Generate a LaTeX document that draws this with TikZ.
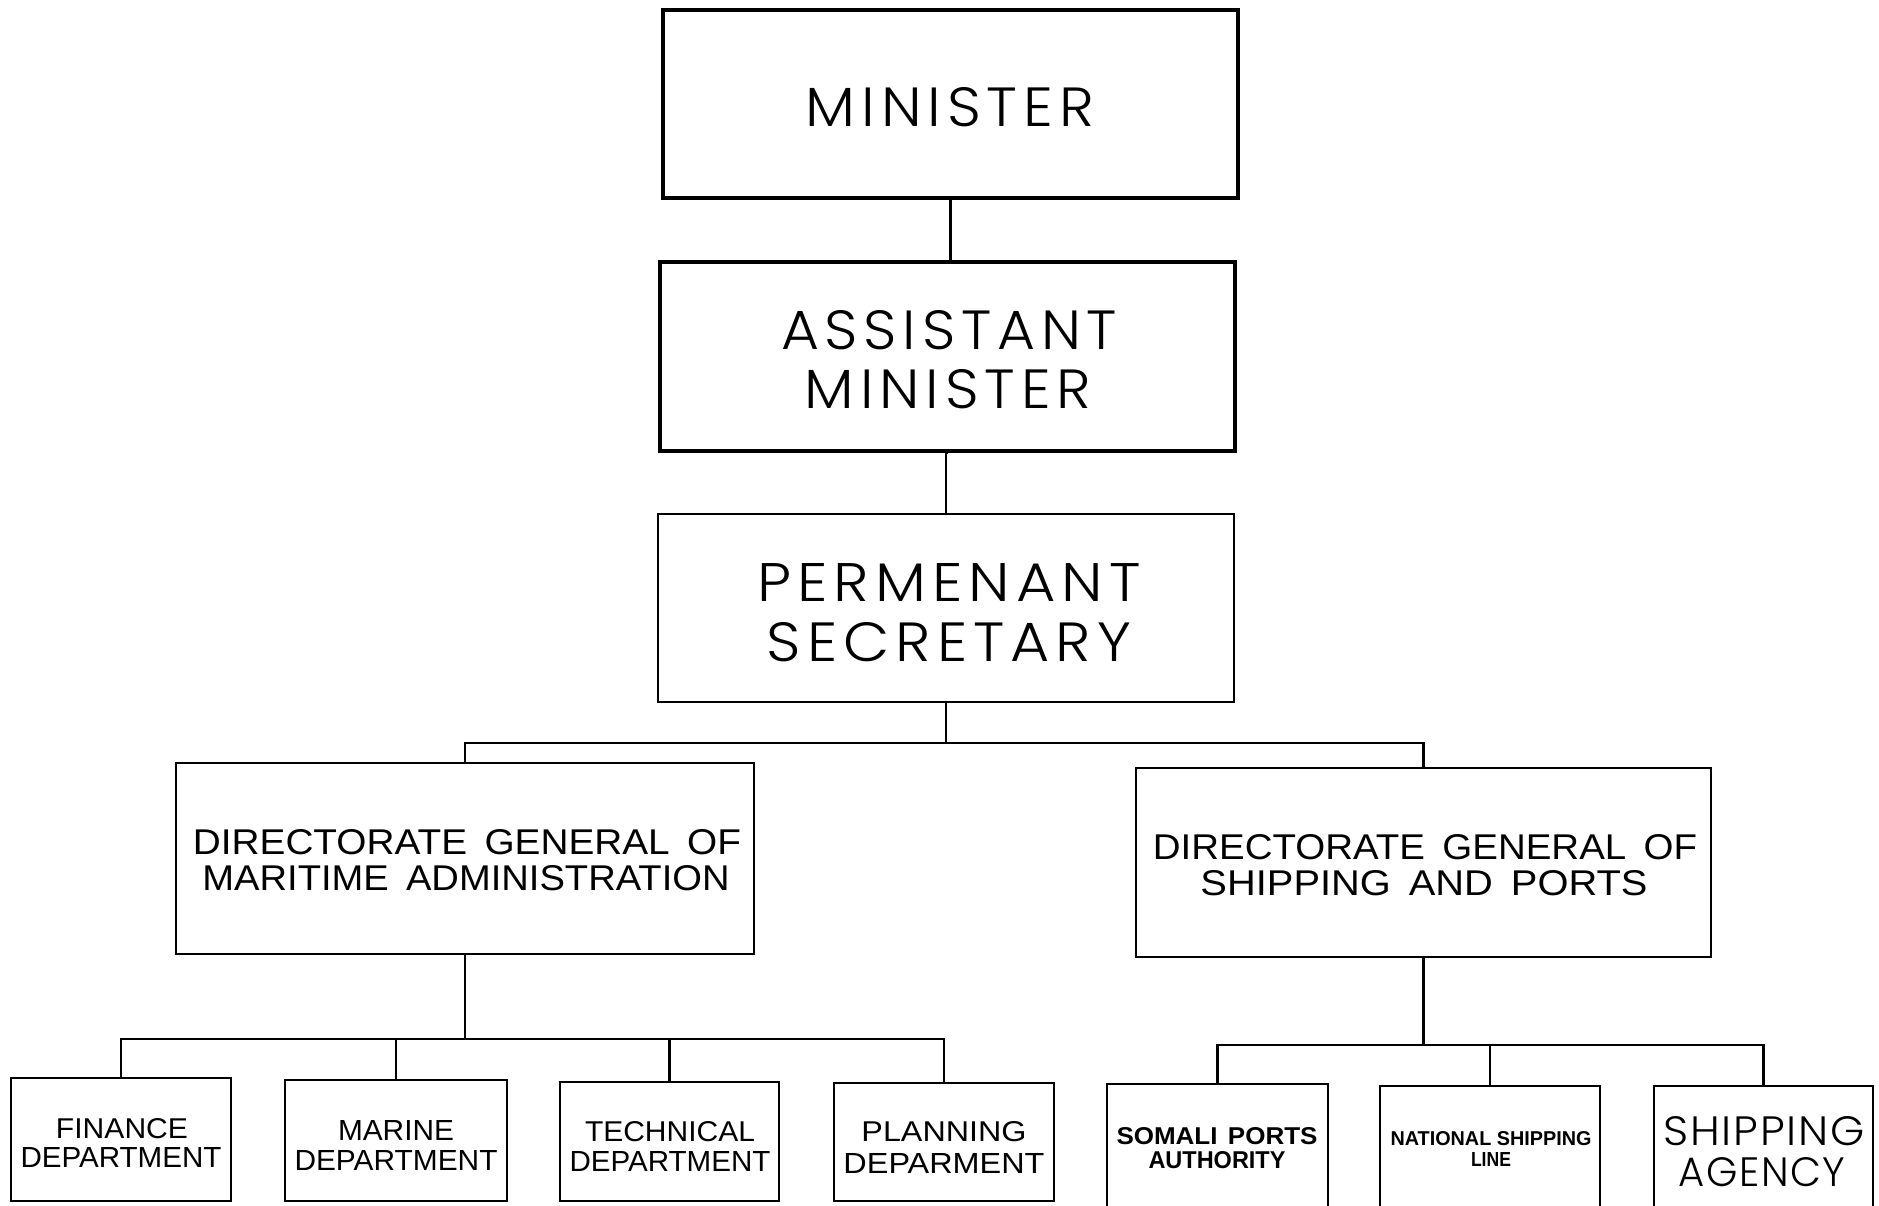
\documentclass[tikz,border=0pt]{standalone}
\usepackage{fontspec}
\setmainfont{Liberation Sans}
\newfontfamily\geo[LetterSpace=10,UprightFont={* Light}]{Poppins}
\newfontfamily\geob[LetterSpace=4,UprightFont={* Light}]{Poppins}
\newcommand\ftxt[3]{\resizebox{#1pt}{#2pt}{#3}}
\begin{document}
\begin{tikzpicture}[x=1pt,y=-1pt,
  boxthick/.style={draw, line width=4.5pt, inner sep=0pt},
  boxmid/.style={draw, line width=2.6pt, inner sep=0pt},
  boxthin/.style={draw, line width=2.2pt, inner sep=0pt},
  txt/.style={inner sep=0pt, anchor=center},
  conn/.style={line width=2.2pt}]
\useasboundingbox (0,0) rectangle (1879,1206);
\fill[white] (0,0) rectangle (1879,1206);

% top chain
\node[boxthick, minimum width=575pt, minimum height=188pt] (min) at (950.5,104) {};
\node[boxthick, minimum width=575pt, minimum height=189pt] (asst) at (947.5,356.5) {};
\node[boxmid, minimum width=576pt, minimum height=188pt] (perm) at (946,608) {};

\node[txt] (tmin) at (950,107) {\ftxt{288}{39}{\geo MINISTER}};
\node[txt] (tasst1) at (949,330) {\ftxt{336}{39}{\geo ASSISTANT}};
\node[txt] (tasst2) at (948,389) {\ftxt{286}{39}{\geo MINISTER}};
\node[txt] (tperm1) at (949,582) {\ftxt{383}{38}{\geo PERMENANT}};
\node[txt] (tperm2) at (949,642) {\ftxt{364}{39}{\geo SECRETARY}};

% directorates
\node[boxmid, minimum width=578pt, minimum height=191pt] (dgl) at (465,858.5) {};
\node[boxmid, minimum width=575pt, minimum height=189pt] (dgr) at (1423.5,862.5) {};

\node[txt] (tdgl1) at (467,842) {\ftxt{548}{25}{DIRECTORATE\hspace{0.45em}GENERAL\hspace{0.45em}OF}};
\node[txt] (tdgl2) at (466,878) {\ftxt{527}{25}{MARITIME\hspace{0.45em}ADMINISTRATION}};
\node[txt] (tdgr1) at (1425,847) {\ftxt{544}{25}{DIRECTORATE\hspace{0.45em}GENERAL\hspace{0.45em}OF}};
\node[txt] (tdgr2) at (1424,883) {\ftxt{447}{25}{SHIPPING\hspace{0.45em}AND\hspace{0.45em}PORTS}};

% bottom boxes (left, closed)
\node[boxthin, minimum width=220pt, minimum height=123pt] (fin) at (121,1139.5) {};
\node[boxthin, minimum width=222pt, minimum height=121pt] (mar) at (396,1140.5) {};
\node[boxthin, minimum width=219pt, minimum height=119pt] (tec) at (669.5,1141.5) {};
\node[boxthin, minimum width=220pt, minimum height=118pt] (pla) at (944,1142) {};
% bottom boxes (right, run off the page)
\node[boxthin, minimum width=221pt, minimum height=160pt] (som) at (1217.5,1164) {};
\node[boxthin, minimum width=220pt, minimum height=158pt] (nat) at (1490,1165) {};
\node[boxthin, minimum width=219pt, minimum height=158pt] (shp) at (1763.5,1165) {};

\node[txt] (tfin1) at (122,1129) {\ftxt{132}{20}{FINANCE}};
\node[txt] (tfin2) at (121,1157) {\ftxt{201}{20}{DEPARTMENT}};
\node[txt] (tmar1) at (396,1130) {\ftxt{116}{20}{MARINE}};
\node[txt] (tmar2) at (396,1160) {\ftxt{203}{20}{DEPARTMENT}};
\node[txt] (ttec1) at (670,1132) {\ftxt{170}{20}{TECHNICAL}};
\node[txt] (ttec2) at (670,1161) {\ftxt{201}{20}{DEPARTMENT}};
\node[txt] (tpla1) at (944,1132) {\ftxt{165}{20}{PLANNING}};
\node[txt] (tpla2) at (944,1163) {\ftxt{201}{20}{DEPARMENT}};
\node[txt] (tsom1) at (1217,1136) {\ftxt{201}{17}{\bfseries SOMALI\hspace{0.4em}PORTS}};
\node[txt] (tsom2) at (1217,1160) {\ftxt{137}{17}{\bfseries AUTHORITY}};
\node[txt] (tnat1) at (1491,1139) {\ftxt{201}{14}{\bfseries NATIONAL SHIPPING}};
\node[txt] (tnat2) at (1491,1159) {\ftxt{40}{14}{\bfseries LINE}};
\node[txt] (tshp1) at (1764,1131) {\ftxt{201}{29}{\geob SHIPPING}};
\node[txt] (tshp2) at (1762,1172) {\ftxt{167}{29}{\geob AGENCY}};

% bus coordinates
\coordinate (busT) at (0,743);
\coordinate (busL) at (0,1039);
\coordinate (busR) at (0,1045);

% connectors
\draw[conn] (min.south) -- (min.south |- asst.north);
\draw[conn] (asst.south) -- (perm.south |- asst.south) -- (perm.north);
\draw[conn] (perm.south) -- (perm.south |- busT);
\draw[conn] (dgl.north) -- (dgl.north |- busT) -- (dgr.north |- busT) -- (dgr.north);

\draw[conn] (dgl.south) -- (dgl.south |- busL);
\draw[conn] (fin.north) -- (fin.north |- busL) -- (pla.north |- busL) -- (pla.north);
\draw[conn] (mar.north) -- (mar.north |- busL);
\draw[conn] (tec.north) -- (tec.north |- busL);

\draw[conn] (dgr.south) -- (dgr.south |- busR);
\draw[conn] (som.north) -- (som.north |- busR) -- (shp.north |- busR) -- (shp.north);
\draw[conn] (nat.north) -- (nat.north |- busR);
\end{tikzpicture}
\end{document}
